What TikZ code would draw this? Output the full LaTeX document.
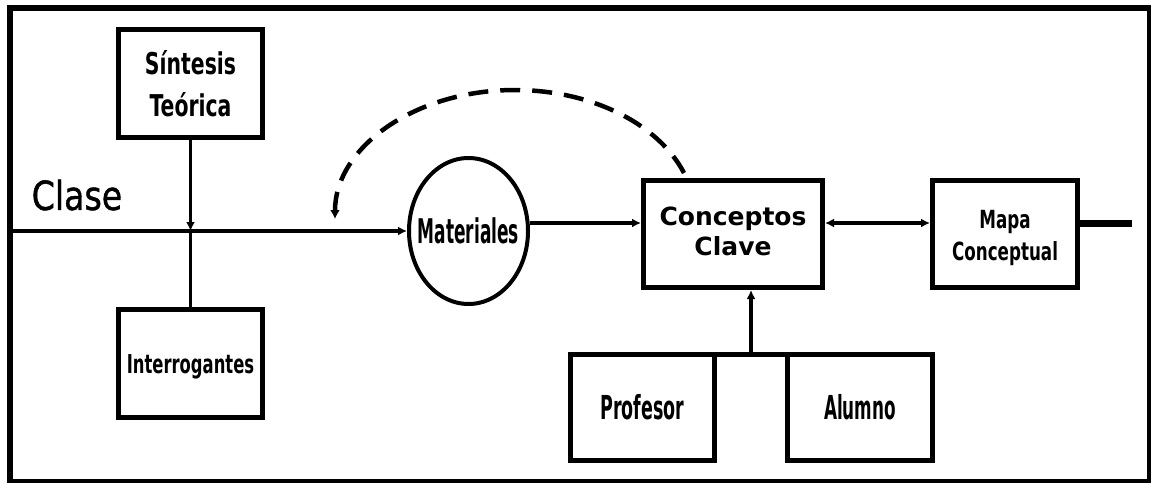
\documentclass[tikz,border=0pt]{standalone}
\usepackage{fontspec}
\setmainfont{DejaVu Sans}
\newfontfamily\clasefont[FakeBold=1.2]{DejaVu Sans}
\usetikzlibrary{arrows.meta,shapes.geometric,calc}
\newcommand{\sqz}[2]{\raisebox{-4pt}[\height][\depth]{\scalebox{#1}[1]{\begin{tabular}{@{}c@{}}#2\end{tabular}}}}
\begin{document}
\begin{tikzpicture}[x=1pt,y=-1pt,
  box/.style={draw, line width=5pt, inner sep=0pt, align=center},
  conn/.style={line width=3.5pt},
  arr/.style={conn, -{Latex[length=9pt,width=9pt]}},
  darr/.style={conn, {Latex[length=9pt,width=9pt]}-{Latex[length=9pt,width=9pt]}}
]
\useasboundingbox (0,0) rectangle (1151,482);
\draw[line width=6pt] (10,8) rectangle (1150,482);

% nodes
\node[box, minimum width=144pt, minimum height=108pt,
  font=\bfseries\fontsize{30}{42}\selectfont] (sint) at (190.5,83.5)
  {\sqz{0.68}{Síntesis\\Teórica}};
\node[box, minimum width=144pt, minimum height=108pt,
  font=\bfseries\fontsize{26}{30}\selectfont] (inter) at (190.5,363.5)
  {\sqz{0.63}{Interrogantes}};
\node[font=\clasefont\fontsize{40}{48}\selectfont, inner sep=0pt] (clase) at (77,195)
  {\scalebox{0.83}[1]{Clase}};
\node[draw, ellipse, line width=4pt, inner sep=0pt, minimum width=119pt,
  minimum height=146pt, font=\bfseries\fontsize{34}{40}\selectfont] (mat) at (468.5,231)
  {\makebox[0pt]{\scalebox{0.5}[1]{Materiales}}};
\node[box, minimum width=179pt, minimum height=107pt,
  font=\bfseries\fontsize{25}{30}\selectfont] (cc) at (733,234)
  {\begin{tabular}{@{}c@{}}Conceptos\\Clave\end{tabular}};
\node[box, minimum width=145pt, minimum height=107pt,
  font=\bfseries\fontsize{25}{32}\selectfont] (mapa) at (1005,234)
  {\sqz{0.67}{Mapa\\Conceptual}};
\node[box, minimum width=144pt, minimum height=106pt,
  font=\bfseries\fontsize{33}{38}\selectfont] (prof) at (642.5,407.5)
  {\sqz{0.53}{Profesor}};
\node[box, minimum width=145pt, minimum height=106pt,
  font=\bfseries\fontsize{33}{38}\selectfont] (alu) at (860,407.5)
  {\sqz{0.51}{Alumno}};

% coordinates
\coordinate (start) at (10,231);
\coordinate (j) at (190.5,231);
\coordinate (stub) at (1132,223);
\coordinate (arcS) at (684,173);
\coordinate (arcE) at (335,219);
\coordinate (pm) at ($(prof.north east)!0.5!(alu.north west)$);
\coordinate (ccin) at ([yshift=11pt]cc.west);
\coordinate (ccout) at ([yshift=11pt]cc.east);
\coordinate (mapin) at ([yshift=11pt]mapa.west);
\coordinate (mapout) at ([yshift=11pt]mapa.east);

% connectors
\draw[arr] (sint.south) -- (j);
\draw[conn] (j) -- (inter.north);
\draw[arr] (start) -- (mat.west);
\draw[arr] (mat.east |- ccin) -- (ccin);
\draw[darr] (ccout) -- (mapin);
\draw[line width=7pt] (mapout) -- (stub);
\draw[line width=5pt] ([yshift=-2.5pt]prof.north east) -- ([yshift=-2.5pt]alu.north west);
\draw[arr] ([yshift=-2.5pt]pm) -- (pm |- cc.south);
\draw[line width=4.5pt, dash pattern=on 20pt off 12pt, -{Latex[length=9pt,width=10pt]}]
  (arcS) .. controls (658.2,123.4) and (590.7,90) .. (515,90)
  .. controls (415.6,90) and (335,146.9) .. (arcE);
\end{tikzpicture}
\end{document}
